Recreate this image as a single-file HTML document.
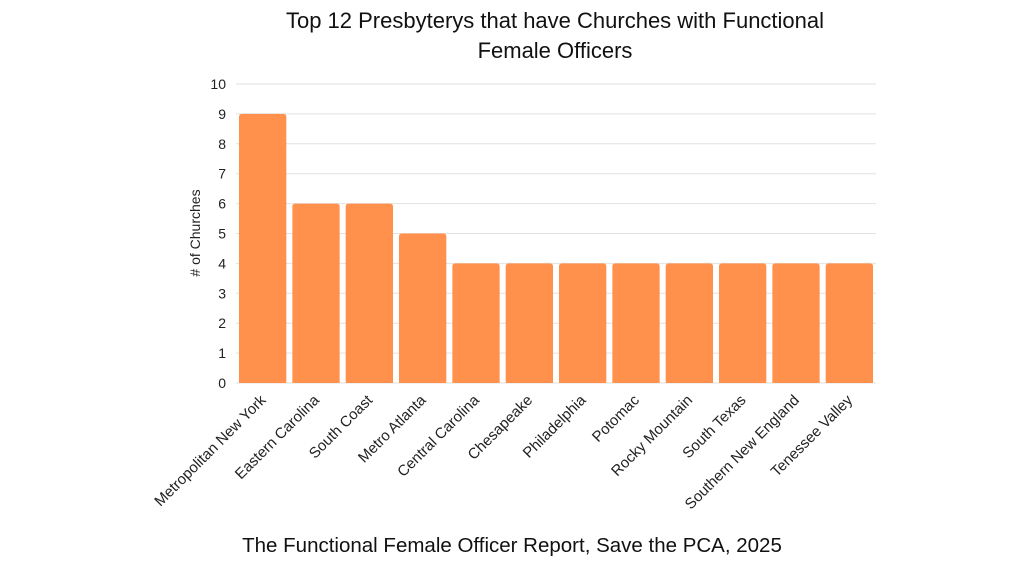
<!DOCTYPE html>
<html><head><meta charset="utf-8"><style>
body{margin:0;background:#fff;width:1024px;height:576px;overflow:hidden;font-family:"Liberation Sans",sans-serif}
</style></head><body>
<svg width="1024" height="576" id="chart">
<text x="555" y="28" text-anchor="middle" font-size="22" fill="#111">Top 12 Presbyterys that have Churches with Functional</text>
<text x="555" y="58" text-anchor="middle" font-size="22" fill="#111">Female Officers</text>
<text x="512" y="552" text-anchor="middle" font-size="20.5" fill="#111">The Functional Female Officer Report, Save the PCA, 2025</text>
<text transform="translate(200,233) rotate(-90)" text-anchor="middle" font-size="14" fill="#222"># of Churches</text>
<g id="grid"></g><g id="bars"></g><g id="labels"></g>
</svg>
<script>
const categories=["Metropolitan New York","Eastern Carolina","South Coast","Metro Atlanta","Central Carolina","Chesapeake","Philadelphia","Potomac","Rocky Mountain","South Texas","Southern New England","Tenessee Valley"];
const values=[9,6,6,5,4,4,4,4,4,4,4,4];
const yTicks=[0,1,2,3,4,5,6,7,8,9,10];
const NS="http://www.w3.org/2000/svg";
const x0=236,x1=876,yBase=383,yTop=84,yMax=10;
const y=v=>yBase-(yBase-yTop)*v/yMax;
const band=(x1-x0)/categories.length;
const grid=document.getElementById('grid'),bars=document.getElementById('bars'),labels=document.getElementById('labels');
yTicks.forEach(t=>{
 const l=document.createElementNS(NS,'line');
 
 
 l.setAttribute('x1',x0);l.setAttribute('x2',x1);l.setAttribute('y1',y(t));l.setAttribute('y2',y(t));
 l.setAttribute('stroke','#e2e2e2');l.setAttribute('stroke-width','1');grid.appendChild(l);
 const tx=document.createElementNS(NS,'text');
 
 
 tx.setAttribute('x',226);tx.setAttribute('y',y(t)+5);tx.setAttribute('text-anchor','end');
 tx.setAttribute('font-size','14');tx.setAttribute('fill','#222');tx.textContent=t;grid.appendChild(tx);
});
categories.forEach((c,i)=>{
 const bx=x0+i*band+3,bw=band-6,top=y(values[i]);
 const p=document.createElementNS(NS,'path');
 
 
 const r=3;
 p.setAttribute('d',`M${bx},${yBase}V${top+r}Q${bx},${top} ${bx+r},${top}H${bx+bw-r}Q${bx+bw},${top} ${bx+bw},${top+r}V${yBase}Z`);
 p.setAttribute('fill','#FF914D');bars.appendChild(p);
 const cx=bx+bw/2+4;
 const t=document.createElementNS(NS,'text');
 
 
 t.setAttribute('transform',`translate(${cx},${yBase+18}) rotate(-45)`);
 t.setAttribute('text-anchor','end');t.setAttribute('font-size','15');t.setAttribute('fill','#222');
 t.textContent=c;labels.appendChild(t);
});
</script>
</body></html>
